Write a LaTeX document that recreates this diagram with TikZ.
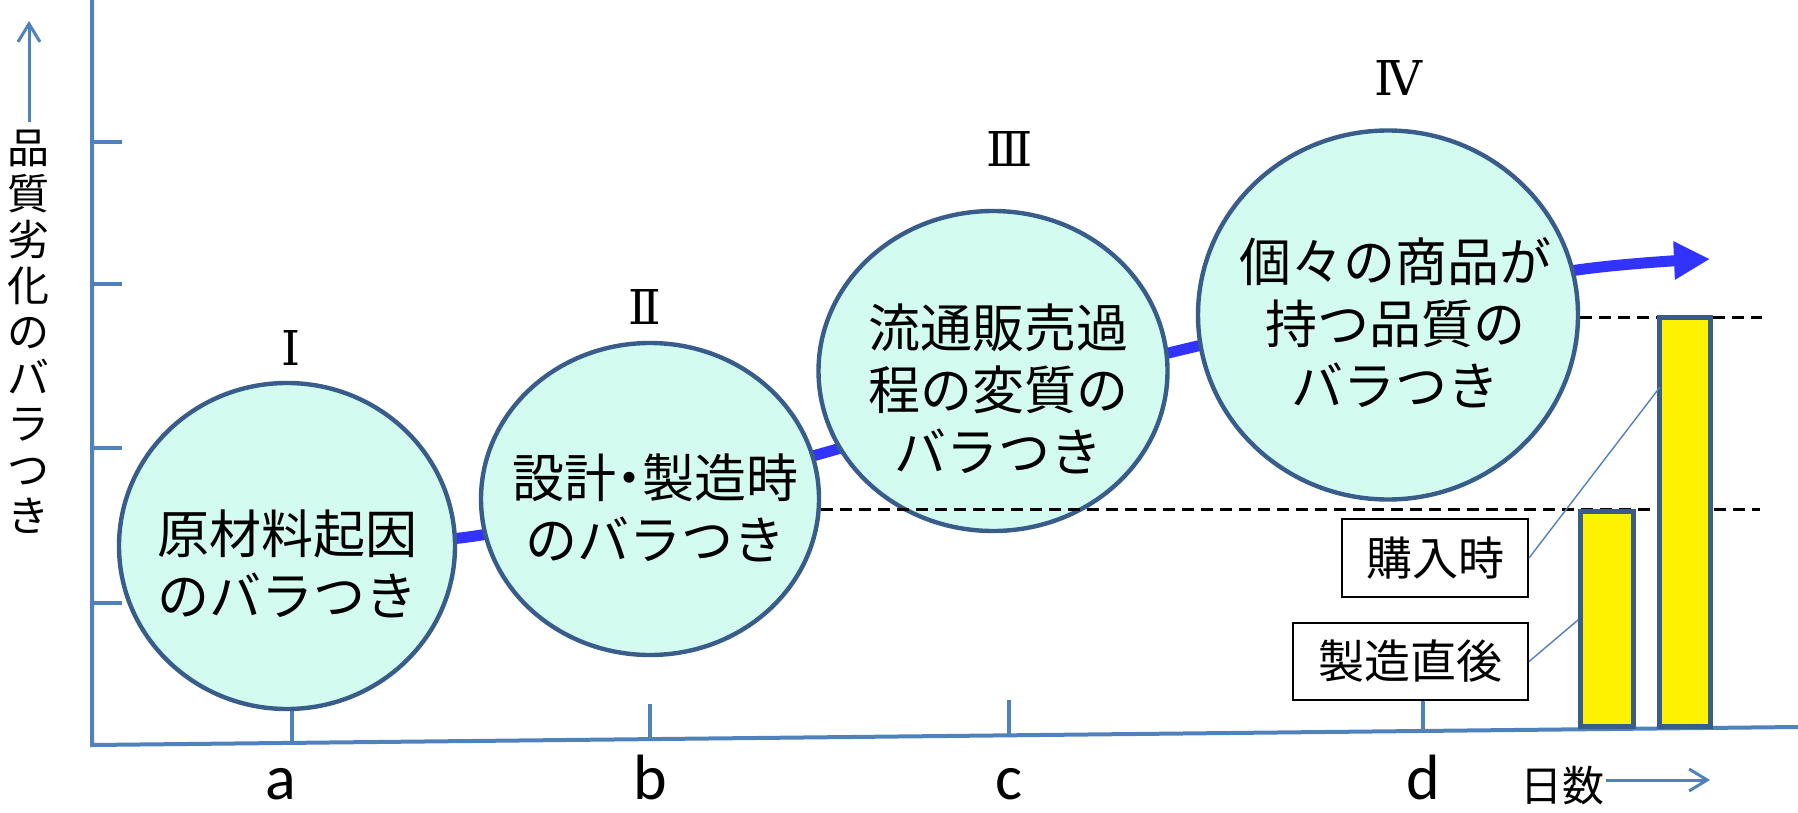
\documentclass[tikz,border=0pt]{standalone}
\usepackage{fontspec}
\setmainfont{Noto Sans CJK JP}
\newfontfamily\latinfont{Carlito}
\newfontfamily\romanfont{DejaVu Serif}
\usetikzlibrary{shapes.geometric,arrows.meta,backgrounds}
\definecolor{axisblue}{HTML}{4F81BD}
\definecolor{rimblue}{HTML}{385D8A}
\definecolor{mint}{HTML}{D4FBEF}
\definecolor{trendblue}{HTML}{3333FF}
\tikzset{
  axisline/.style={draw=axisblue, line width=2pt},
  pointarrow/.style={draw=axisblue, line width=1.5pt, -{Straight Barb[length=9pt,width=11pt]}},
  bubble/.style={ellipse, draw=rimblue, line width=2.2pt, fill=mint, inner sep=0pt},
  bubbletext/.style={align=center, inner sep=0pt, font=\fontsize{26}{31}\selectfont},
  numeral/.style={font=\romanfont\fontsize{24}{24}\selectfont},
  axislabel/.style={anchor=base, inner sep=0pt, font=\latinfont\fontsize{32}{32}\selectfont},
  tagbox/.style={draw=black, line width=1pt, fill=white, inner sep=0pt, font=\fontsize{23}{23}\selectfont},
  barbox/.style={draw=rimblue, line width=2.5pt, fill=yellow, inner sep=0pt},
  dashline/.style={dash pattern=on 6pt off 3.5pt, line width=1.5pt},
  trend/.style={draw=trendblue, line width=5.5pt, -{Triangle[length=18pt,width=18pt]}},
  pointer/.style={draw=axisblue, line width=0.7pt}
}
\begin{document}
\begin{tikzpicture}[x=0.5pt, y=-0.5pt]
  \useasboundingbox (0,0) rectangle (1798,813);
  % axes
  \draw[axisline] (92,0) -- (92,745) -- (1798,727);
  \foreach \y in {142,284,448,603}
    \draw[axisline] (92,\y) -- (122,\y);
  \foreach \x/\y in {292/743,650/739,1009/735,1423/731}
    \draw[axisline] (\x,\y) -- (\x,{\y-35});
  \foreach \x/\t in {281/a,650/b,1009/c,1423/d}
    \node[axislabel] (lab\t) at (\x,799) {\t};
  \node[align=center, inner sep=4pt, font=\fontsize{21}{23}\selectfont] (quality) at (29,332)
    {品\\質\\劣\\化\\の\\バ\\ラ\\つ\\き};
  \coordinate (qtip) at (29,21);
  \draw[pointarrow] (quality.north) -- (qtip);
  \node[inner sep=1pt, font=\fontsize{21}{21}\selectfont] (days) at (1562,786) {日数};
  \coordinate (dtip) at (1710,780);
  \draw[pointarrow] (days.east |- dtip) -- (dtip);
  % stages
  \node[bubble, minimum width=168pt, minimum height=163pt] (c1) at (287,546) {};
  \node[bubble, minimum width=169pt, minimum height=156pt] (c2) at (650,499) {};
  \node[bubble, minimum width=174.5pt, minimum height=160pt] (c3) at (993,371) {};
  \node[bubble, minimum width=190pt, minimum height=184.5pt] (c4) at (1388,315) {};
  \node[bubbletext] (t1) at (287,564) {原材料起因\\のバラつき};
  \node[bubbletext] (t2) at (655,508) {設計\kern-.25em・\kern-.25em製造時\\のバラつき};
  \node[bubbletext] (t3) at (998,389) {流通販売過\\程の変質の\\バラつき};
  \node[bubbletext] (t4) at (1395,323) {個々の商品が\\持つ品質の\\バラつき};
  \node[numeral] (n1) at (291,348) {Ⅰ};
  \node[numeral] (n2) at (645,307) {Ⅱ};
  \node[numeral] (n3) at (1010,149) {Ⅲ};
  \node[numeral] (n4) at (1398,78) {Ⅳ};
  \coordinate (trendtip) at (1710,259);
  \begin{scope}[on background layer]
    \draw[trend] plot[smooth, tension=0.6] coordinates {(c1.center) (468,537) (650,497)
      (827,452) (1000,398) (1185,349) (1388,305) (1577,270) (trendtip)};
  \end{scope}
  % levels
  \coordinate (lowend) at (1760,509);
  \coordinate (highend) at (1762,317);
  \draw[dashline] (c2.east |- lowend) -- (lowend);
  \draw[dashline] (c4.east |- highend) -- (highend);
  % bars
  \node[barbox, minimum width=26.5pt, minimum height=107.5pt] (bar1) at (1607,619) {};
  \node[barbox, minimum width=25.5pt, minimum height=204.5pt] (bar2) at (1685,522) {};
  \node[tagbox, minimum width=93pt, minimum height=39pt] (buy) at (1435,558) {購入時};
  \node[tagbox, minimum width=117.5pt, minimum height=38.5pt] (made) at (1410.5,661.5) {製造直後};
  \coordinate (bar2pt) at (1660,387);
  \coordinate (bar1pt) at (1578,620);
  \draw[pointer] (buy.east) -- (bar2pt);
  \draw[pointer] (made.east) -- (bar1pt);
\end{tikzpicture}
\end{document}
